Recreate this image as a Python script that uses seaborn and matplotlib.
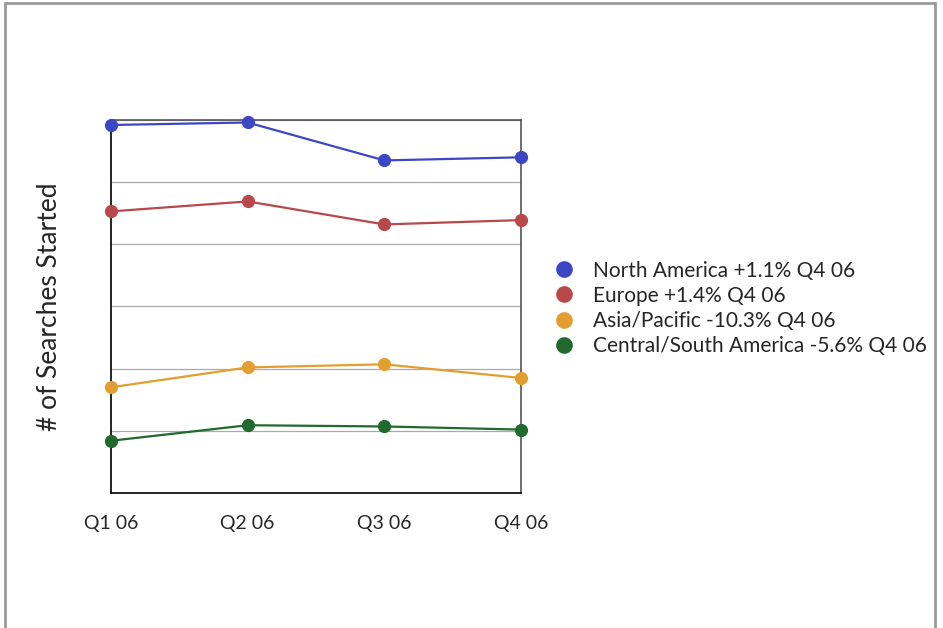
import matplotlib
matplotlib.use('Agg')
import matplotlib.pyplot as plt
from matplotlib.lines import Line2D
from matplotlib.patches import Rectangle
import pandas as pd
import seaborn as sns

quarters = ["Q1 06", "Q2 06", "Q3 06", "Q4 06"]
north_america = [5.92, 5.96, 5.35, 5.40]
europe = [4.53, 4.69, 4.32, 4.39]
asia_pacific = [1.70, 2.02, 2.07, 1.85]
central_south = [0.84, 1.09, 1.07, 1.02]
labels = ["North America +1.1% Q4 06", "Europe +1.4% Q4 06",
          "Asia/Pacific -10.3% Q4 06", "Central/South America -5.6% Q4 06"]
colors = ["#3C47C6", "#B8484A", "#E29F2F", "#1F6A2C"]

rows = []
for name, vals in zip(labels, [north_america, europe, asia_pacific, central_south]):
    for q, v in zip(quarters, vals):
        rows.append({"quarter": q, "value": v, "region": name})
df = pd.DataFrame(rows)

sns.set_style("white")
plt.rcParams['font.family'] = ['Lato', 'DejaVu Sans']

fig = plt.figure(figsize=(9.43, 6.28), dpi=100)
ax = fig.add_axes([0.1177, 0.2150, 0.4348, 0.5939])

sns.lineplot(data=df, x="quarter", y="value", hue="region", palette=colors,
             marker="o", markersize=9.5, markeredgewidth=0, linewidth=1.6,
             sort=False, legend=False, ax=ax, zorder=3)

ax.set_xlim(0, 3)
ax.set_ylim(0, 6)
ax.set_yticks(range(0, 7))
ax.set_yticklabels([])
ax.tick_params(axis='y', length=0)
ax.tick_params(axis='x', direction='inout', length=6, width=1, color='#333333',
               labelsize=14, pad=13)
ax.grid(axis='y', color='#aaaaaa', linewidth=0.9)
ax.set_xlabel("")
ax.set_ylabel("# of Searches Started", fontsize=19, labelpad=32)
for s in ['left', 'bottom']:
    ax.spines[s].set_color('black')
    ax.spines[s].set_linewidth(1.2)
for s in ['top', 'right']:
    ax.spines[s].set_color('#555555')
    ax.spines[s].set_linewidth(1.2)
for m in ax.lines:
    m.set_clip_on(False)

handles = [Line2D([], [], linestyle='none', marker='o', markersize=12,
                  markerfacecolor=c, markeredgewidth=0) for c in colors]
fig.legend(handles, labels, loc='center left', bbox_to_anchor=(0.5765, 0.509),
           frameon=False, fontsize=15, handletextpad=0.75, labelspacing=0.25,
           handlelength=1.2, borderaxespad=0)

fig.patches.append(Rectangle((5 / 943, -0.05), 930 / 943, 1.05 - 3 / 628,
                             transform=fig.transFigure, fill=False,
                             edgecolor='#999999', linewidth=2))

fig.savefig("out.png", dpi=100)
